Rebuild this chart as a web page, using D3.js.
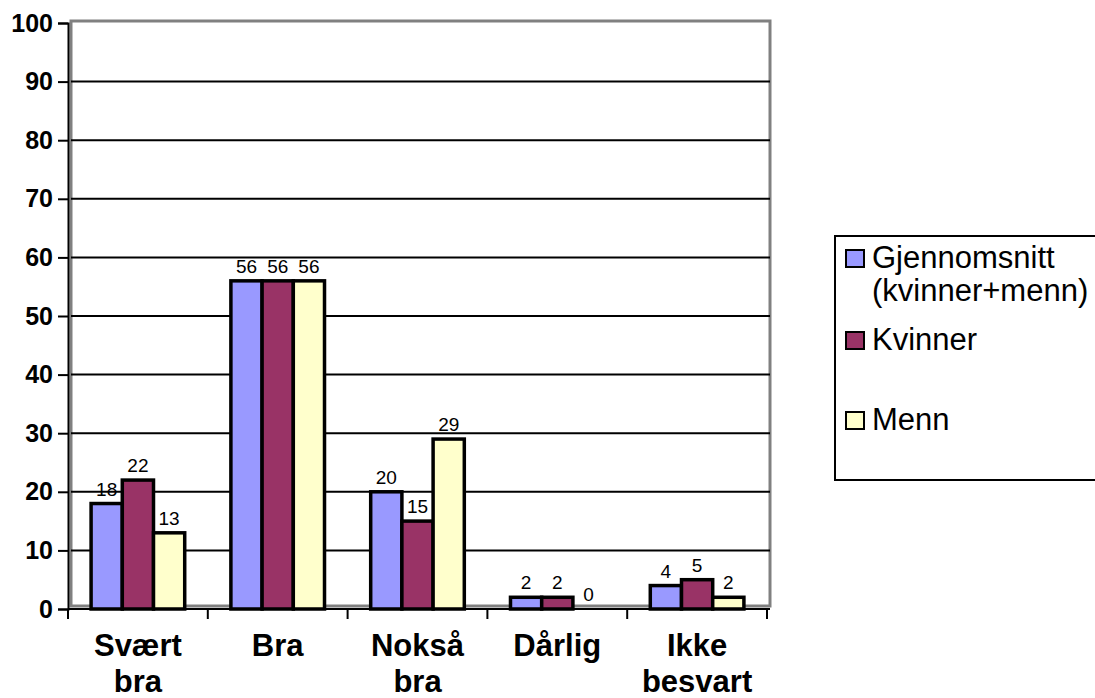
<!DOCTYPE html>
<html>
<head>
<meta charset="utf-8">
<script src="https://cdn.jsdelivr.net/npm/d3@7"></script>
<style>
  body { margin: 0; background: #fff; }
  svg { display: block; font-family: "Liberation Sans", Arial, sans-serif; }
</style>
</head>
<body>
<svg id="chart" width="1095" height="698"></svg>
<script>
const categories = [['Svært', 'bra'], ['Bra'], ['Nokså', 'bra'], ['Dårlig'], ['Ikke', 'besvart']];
const seriesNames = [['Gjennomsnitt', '(kvinner+menn)'], ['Kvinner'], ['Menn']];
const gjennomsnitt = [18, 56, 20, 2, 4];
const kvinner = [22, 56, 15, 2, 5];
const menn = [13, 56, 29, 0, 2];
const yTicks = [0, 10, 20, 30, 40, 50, 60, 70, 80, 90, 100];
const colors = ['#9999FF', '#993366', '#FFFFCC'];

const series = [gjennomsnitt, kvinner, menn];
const svg = d3.select('#chart');

const plotLeft = 68, plotRight = 767, plotTop = 23, plotBottom = 609;

let x = d3.scaleBand()
    .domain(d3.range(categories.length))
    .range([plotLeft, plotRight])
    .paddingInner(0)
    .paddingOuter(0);

let inner = d3.scaleBand()
    .domain(d3.range(series.length))
    .range([0, x.bandwidth()])
    .paddingOuter(0.74)
    .paddingInner(0);

let y = d3.scaleLinear()
    .domain([0, 100])
    .range([plotBottom, plotTop]);

// plot area walls
svg.append('rect')
    .attr('x', 71).attr('y', 21)
    .attr('width', 699).attr('height', plotBottom - 21 - 3)
    .attr('fill', 'none')
    .attr('stroke', '#808080')
    .attr('stroke-width', 3);

// gridlines
svg.append('g')
    .selectAll('line')
    .data(yTicks.filter(d => d > 0 && d < 100))
    .join('line')
    .attr('x1', 71).attr('x2', 770)
    .attr('y1', d => y(d)).attr('y2', d => y(d))
    .attr('stroke', '#000')
    .attr('stroke-width', 2);

// y axis
let yAxis = svg.append('g')
    .attr('transform', `translate(${plotLeft},0)`)
    .call(d3.axisLeft(y).tickValues(yTicks).tickSize(10).tickPadding(5));
yAxis.select('.domain').attr('stroke', '#000').attr('stroke-width', 2);
yAxis.selectAll('.tick line').attr('stroke', '#000').attr('stroke-width', 2);
yAxis.selectAll('.tick text')
    .attr('font-size', 25)
    .attr('font-weight', 'bold')
    .attr('font-family', '"Liberation Sans", Arial, sans-serif')
    .attr('fill', '#000');

// x axis
let xAxis = svg.append('g')
    .attr('transform', `translate(0,${plotBottom})`);
xAxis.append('line')
    .attr('x1', plotLeft).attr('x2', 770)
    .attr('stroke', '#000').attr('stroke-width', 2);
xAxis.selectAll('line.tick')
    .data(d3.range(categories.length + 1))
    .join('line')
    .attr('class', 'tick')
    .attr('x1', i => plotLeft + i * x.bandwidth())
    .attr('x2', i => plotLeft + i * x.bandwidth())
    .attr('y1', 0).attr('y2', 10)
    .attr('stroke', '#000').attr('stroke-width', 2);

// bars
let groups = svg.append('g')
    .selectAll('g')
    .data(series)
    .join('g');

groups.selectAll('rect')
    .data((s, si) => s.map((v, ci) => ({ v, ci, si })))
    .join('rect')
    .attr('x', d => x(d.ci) + inner(d.si))
    .attr('y', d => y(d.v))
    .attr('width', inner.bandwidth())
    .attr('height', d => plotBottom - y(d.v))
    .attr('fill', d => colors[d.si])
    .attr('stroke', '#000')
    .attr('stroke-width', 3.5);

groups.selectAll('text')
    .data((s, si) => s.map((v, ci) => ({ v, ci, si })))
    .join('text')
    .attr('x', d => x(d.ci) + inner(d.si) + inner.bandwidth() / 2)
    .attr('y', d => y(d.v) - 8)
    .attr('text-anchor', 'middle')
    .attr('font-size', 19)
    .text(d => d.v);

// category labels
let cat = svg.append('g')
    .selectAll('text')
    .data(categories)
    .join('text')
    .attr('text-anchor', 'middle')
    .attr('font-size', 31)
    .attr('font-weight', 'bold');
cat.selectAll('tspan')
    .data((d, i) => d.map((t, j) => ({ t, j, i })))
    .join('tspan')
    .attr('x', d => x(d.i) + x.bandwidth() / 2)
    .attr('y', d => 656 + d.j * 36)
    .text(d => d.t);

// legend
let legend = svg.append('g');
legend.append('rect')
    .attr('x', 835).attr('y', 236)
    .attr('width', 300).attr('height', 244)
    .attr('fill', '#fff')
    .attr('stroke', '#000')
    .attr('stroke-width', 2);

const legendY = [250, 332, 412];
seriesNames.forEach((name, i) => {
    legend.append('rect')
        .attr('x', 846).attr('y', legendY[i])
        .attr('width', 18).attr('height', 17)
        .attr('fill', colors[i])
        .attr('stroke', '#000')
        .attr('stroke-width', 2);
    let t = legend.append('text')
        .attr('font-size', 31);
    name.forEach((line, j) => {
        t.append('tspan')
            .attr('x', 872)
            .attr('y', legendY[i] + 18 + j * 33)
            .text(line);
    });
});
</script>
</body>
</html>
